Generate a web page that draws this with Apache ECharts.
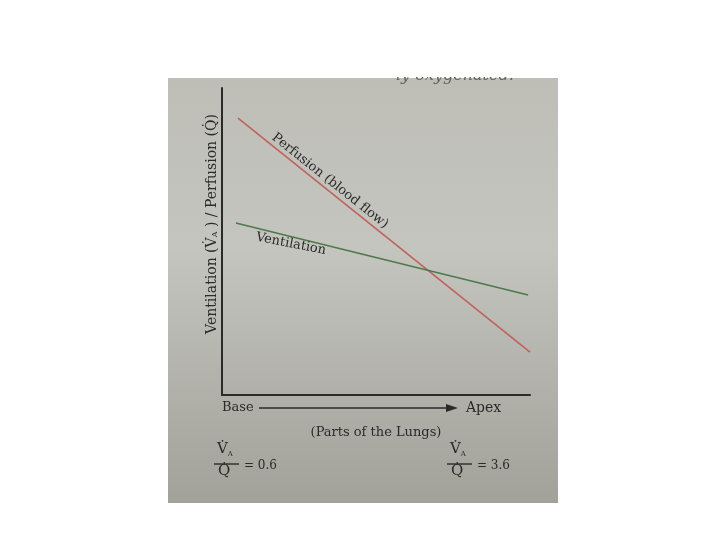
<!DOCTYPE html>
<html><head><meta charset="utf-8">
<script src="https://cdn.jsdelivr.net/npm/echarts@6/dist/echarts.min.js"></script>
<style>html,body{margin:0;background:#fff}#c{width:720px;height:540px}</style></head>
<body><div id="c"></div>
<script>
// Lung position (0 = base, 100 = apex) and relative magnitude
const perfusion = [[5.2, 90.2], [100, 14.0]];
const ventilation = [[4.5, 56.0], [99.4, 32.6]];
const seriesNames = ['Perfusion (blood flow)', 'Ventilation'];
const axisEnds = ['Base', 'Apex'];
const xTitle = '(Parts of the Lungs)';
const ratios = ['0.6', '3.6'];

const serif = '"DejaVu Serif", "Liberation Serif", serif';
const ink = '#2a2a28';
const chart = echarts.init(document.getElementById('c'));

function fraction(x, y, val) {
  return [
    {type: 'text', left: x, top: y, style: {text: 'V\u0307{s|A}', rich: {s: {fontSize: 7, fill: ink, fontFamily: serif, padding: [9, 0, 0, 0]}}, fill: ink, fontSize: 15, fontFamily: serif}, z: 10},
    {type: 'line', shape: {x1: x - 3, y1: y + 22, x2: x + 22, y2: y + 22}, style: {stroke: ink, lineWidth: 1.4}, z: 10},
    {type: 'text', left: x + 1, top: y + 22, style: {text: 'Q\u0307', fill: ink, fontSize: 15, fontFamily: serif}, z: 10},
    {type: 'text', left: x + 27, top: y + 18, style: {text: '= ' + val, fill: ink, fontSize: 12, fontFamily: serif}, z: 10}
  ];
}

const option = {
  animation: false,
  backgroundColor: '#ffffff',
  grid: {left: 222, right: 190, top: 88, bottom: 145},
  xAxis: {type: 'value', min: 0, max: 100, axisLine: {show: true, lineStyle: {color: ink, width: 2}},
    axisTick: {show: false}, axisLabel: {show: false}, splitLine: {show: false}},
  yAxis: {type: 'value', min: 0, max: 100, axisLine: {show: true, lineStyle: {color: ink, width: 2}},
    axisTick: {show: false}, axisLabel: {show: false}, splitLine: {show: false}},
  series: [
    {name: seriesNames[0], type: 'line', data: perfusion, symbol: 'none', lineStyle: {color: '#c2615a', width: 1.6}, z: 5},
    {name: seriesNames[1], type: 'line', data: ventilation, symbol: 'none', lineStyle: {color: '#4d7a4b', width: 1.6}, z: 5}
  ],
  graphic: [
    {type: 'rect', shape: {x: 168, y: 78, width: 390, height: 425}, z: -10,
      style: {fill: new echarts.graphic.LinearGradient(0, 0, 0, 1, [
        {offset: 0, color: '#bebeb7'}, {offset: 0.4, color: '#c4c5bf'}, {offset: 1, color: '#a2a19a'}])}},
    {type: 'text', left: 396, top: 68, style: {text: 'ly oxygenated.', fill: '#66665f', fontSize: 16, fontStyle: 'italic', fontFamily: serif}, z: 1},
    {type: 'rect', shape: {x: 360, y: 0, width: 220, height: 77}, style: {fill: '#ffffff'}, z: 2},
    {type: 'text', x: 330, y: 181, rotation: -38.5 * Math.PI / 180,
      style: {text: seriesNames[0], fill: ink, fontSize: 13, fontFamily: serif, align: 'center', verticalAlign: 'middle'}, z: 10},
    {type: 'text', x: 291, y: 244, rotation: -11 * Math.PI / 180,
      style: {text: seriesNames[1], fill: ink, fontSize: 13, fontFamily: serif, align: 'center', verticalAlign: 'middle'}, z: 10},
    {type: 'text', x: 212, y: 224, rotation: Math.PI / 2,
      style: {text: 'Ventilation (V\u0307{s|A} ) / Perfusion (Q\u0307)', fill: ink, fontSize: 14, fontFamily: serif, align: 'center', verticalAlign: 'middle',
        rich: {s: {fontSize: 8, fill: ink, fontFamily: serif, padding: [6, 0, 0, 0]}}}, z: 10},
    {type: 'text', x: 222, y: 408, style: {text: axisEnds[0], fill: ink, fontSize: 13, fontFamily: serif, verticalAlign: 'middle'}, z: 10},
    {type: 'line', shape: {x1: 259, y1: 408, x2: 450, y2: 408}, style: {stroke: ink, lineWidth: 1.6}, z: 10},
    {type: 'polygon', shape: {points: [[458, 408], [446, 404], [446, 412]]}, style: {fill: ink}, z: 10},
    {type: 'text', x: 466, y: 408, style: {text: axisEnds[1], fill: ink, fontSize: 14, fontFamily: serif, verticalAlign: 'middle'}, z: 10},
    {type: 'text', x: 376, y: 433, style: {text: xTitle, fill: ink, fontSize: 13, fontFamily: serif, align: 'center', verticalAlign: 'middle'}, z: 10}
  ].concat(fraction(217, 442, ratios[0]), fraction(450, 442, ratios[1]))
};
chart.setOption(option);
</script></body></html>
